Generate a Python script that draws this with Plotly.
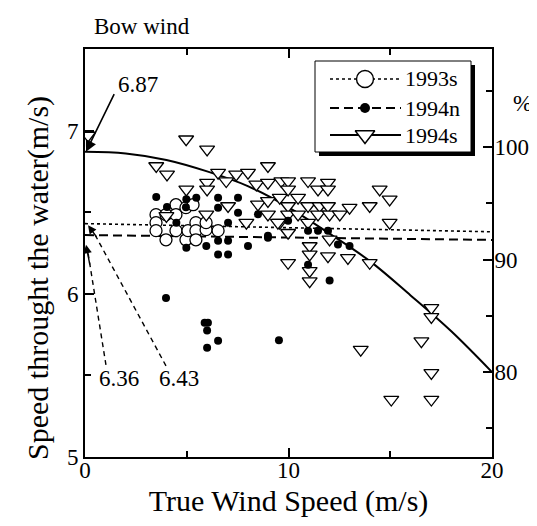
import plotly.graph_objects as go

# ---------------- data ----------------
# 1993s (open circles)
x93s = [3.49, 3.49, 3.49, 3.98, 3.98, 4.47, 4.47, 4.47, 4.96, 4.96, 5.06, 5.31, 5.45, 5.45, 5.45, 5.95, 5.95, 6.54]
y93s = [6.485, 6.436, 6.387, 6.331, 6.485, 6.546, 6.485, 6.387, 6.528, 6.331, 6.387, 6.546, 6.436, 6.387, 6.331, 6.393, 6.436, 6.387]

# 1994n (filled dots)
x94n = [3.50, 4.03, 5.47, 4.98, 6.54, 6.54, 7.52, 7.52, 8.01, 6.54, 7.03, 5.96, 4.98, 4.49, 7.03,
        8.99, 8.50, 4.96, 3.98, 5.88, 6.04, 6.00, 6.54, 6.00, 9.53, 6.54, 7.03, 12.02, 10.96,
        8.99, 9.98, 10.96, 11.45, 11.94, 12.43, 13.00]
y94n = [6.593, 6.532, 6.589, 6.579, 6.589, 6.528, 6.589, 6.497, 6.293, 6.241, 6.241, 6.293, 6.282, 6.436, 6.436,
        6.344, 6.487, 6.530, 5.975, 5.822, 5.822, 5.775, 5.713, 5.669, 5.716, 6.325, 6.325, 6.082, 6.178,
        6.356, 6.448, 6.387, 6.387, 6.387, 6.302, 6.293]

# 1994s (open down-triangles)
x94s = [0.15, 4.97, 6.00, 3.50, 4.03, 6.54, 7.43, 8.01, 8.99, 6.94, 6.00, 6.00, 4.98, 7.03, 5.96, 4.00,
        7.93, 8.42, 8.99, 9.65, 8.50, 8.99, 9.57, 8.99, 9.57, 9.98, 10.96, 11.94, 9.98, 10.47, 11.45,
        11.94, 9.98, 10.96, 11.53, 11.94, 9.98, 10.47, 11.45, 12.02, 12.52, 13.00, 13.99, 14.48, 14.97,
        9.48, 10.96, 9.98, 14.97, 12.02, 12.92, 13.99, 11.04, 11.04, 9.98, 11.94, 11.04, 11.04,
        17.02, 17.02, 16.53, 13.55, 17.02, 15.05, 17.02]
y94s = [6.970, 6.947, 6.885, 6.783, 6.732, 6.742, 6.732, 6.742, 6.783, 6.691, 6.681, 6.640, 6.640, 6.538, 6.487, 6.477,
        6.436, 6.670, 6.681, 6.691, 6.548, 6.569, 6.589, 6.487, 6.436, 6.691, 6.691, 6.681, 6.640, 6.589, 6.640,
        6.640, 6.538, 6.538, 6.538, 6.538, 6.487, 6.487, 6.487, 6.487, 6.487, 6.528, 6.538, 6.640, 6.579,
        6.436, 6.436, 6.374, 6.436, 6.333, 6.220, 6.190, 6.293, 6.241, 6.190, 6.231, 6.140, 6.078,
        5.914, 5.859, 5.710, 5.658, 5.515, 5.352, 5.352]

# fitted lines
fit93s_x = [0, 20]
fit93s_y = [6.43, 6.38]
fit94n_x = [0, 20]
fit94n_y = [6.36, 6.33]
fit94s_x = [0, 2, 4, 6, 8, 10, 12, 14, 16, 18, 20]
fit94s_y = [6.87, 6.86, 6.82, 6.75, 6.66, 6.53, 6.37, 6.20, 5.99, 5.77, 5.52]

series_names = ["1993s", "1994n", "1994s"]
x_ticks = [0, 10, 20]
y_ticks = [5, 6, 7]
pct_ticks = [80, 90, 100]
pct_ref = 6.90          # speed that corresponds to 100 %

FONT = "Liberation Serif"

# plot-area geometry (px) used only for placing decorations
L, R, T, B = 77, 484, 41, 449
W, H = 537, 526

def px2x(px):
    return (px - L) / (R - L)

def py2y(py):
    return (B - py) / (B - T)

fig = go.Figure()

# fit lines
styles = {
    "1993s": dict(color="black", width=1.6, dash="dot"),
    "1994n": dict(color="black", width=2, dash="9px,5px"),
    "1994s": dict(color="black", width=2),
}
fig.add_trace(go.Scatter(x=fit93s_x, y=fit93s_y, mode="lines", showlegend=False, line=styles["1993s"]))
fig.add_trace(go.Scatter(x=fit94n_x, y=fit94n_y, mode="lines", showlegend=False, line=styles["1994n"]))
fig.add_trace(go.Scatter(x=fit94s_x, y=fit94s_y, mode="lines", showlegend=False,
                         line=dict(styles["1994s"], shape="spline")))

# markers
fig.add_trace(go.Scatter(x=x93s, y=y93s, mode="markers", showlegend=False,
                         marker=dict(symbol="circle", size=12, color="white",
                                     line=dict(color="black", width=1.3))))
fig.add_trace(go.Scatter(x=x94s, y=y94s, mode="markers", showlegend=False,
                         marker=dict(symbol="triangle-down", size=13, color="white",
                                     line=dict(color="black", width=1.3))))
fig.add_trace(go.Scatter(x=x94n, y=y94n, mode="markers", showlegend=False,
                         marker=dict(symbol="circle", size=8, color="black",
                                     line=dict(color="black", width=0))))

# dummy on right axis
fig.add_trace(go.Scatter(x=[None], y=[None], yaxis="y2", showlegend=False, hoverinfo="skip"))

# ---------- hand-made legend on an overlay axis in paper units ----------
bx0, bx1, by0, by1 = px2x(307), px2x(463), py2y(144), py2y(53)
sdx, sdy = 4 / (R - L), 4 / (B - T)
fig.add_trace(go.Scatter(x=[bx0 + sdx, bx1 + sdx, bx1 + sdx, bx0 + sdx, bx0 + sdx],
                         y=[by0 - sdy, by0 - sdy, by1 - sdy, by1 - sdy, by0 - sdy],
                         xaxis="x3", yaxis="y3", mode="lines", fill="toself",
                         fillcolor="black", line=dict(color="black", width=0),
                         showlegend=False, hoverinfo="skip"))
fig.add_trace(go.Scatter(x=[bx0, bx1, bx1, bx0, bx0], y=[by0, by0, by1, by1, by0],
                         xaxis="x3", yaxis="y3", mode="lines", fill="toself",
                         fillcolor="white", line=dict(color="black", width=1),
                         showlegend=False, hoverinfo="skip"))
row_py = [71, 100, 127]
leg_markers = [
    dict(symbol="circle", size=17, color="white", line=dict(color="black", width=1.4)),
    dict(symbol="circle", size=10, color="black"),
    dict(symbol="triangle-down", size=17, color="white", line=dict(color="black", width=1.4)),
]
leg_ann = []
for name, rp, mk in zip(series_names, row_py, leg_markers):
    yy = py2y(rp)
    fig.add_trace(go.Scatter(x=[px2x(322), px2x(393)], y=[yy, yy], xaxis="x3", yaxis="y3",
                             mode="lines", line=styles[name], showlegend=False, hoverinfo="skip"))
    fig.add_trace(go.Scatter(x=[px2x(357)], y=[yy], xaxis="x3", yaxis="y3", mode="markers",
                             marker=mk, showlegend=False, hoverinfo="skip"))
    leg_ann.append(dict(text=name, xref="paper", yref="paper", x=px2x(395), y=yy,
                        xanchor="left", yanchor="middle", showarrow=False,
                        font=dict(family=FONT, size=22)))

tickfont = dict(family=FONT, size=23, color="black")

fig.update_layout(
    width=W, height=H,
    margin=dict(l=L, r=W - R, t=T, b=H - B, autoexpand=False),
    paper_bgcolor="white", plot_bgcolor="white",
    font=dict(family=FONT, color="black"),
    showlegend=False,
    xaxis=dict(range=[0, 20], tickvals=x_ticks, ticktext=[str(v) for v in x_ticks],
               ticks="inside", ticklen=9, tickwidth=1.5, tickcolor="black",
               minor=dict(tickvals=[5, 15], ticks="inside", ticklen=6, tickwidth=1.5, tickcolor="black"),
               showline=True, linecolor="black", linewidth=2, mirror="ticks",
               showgrid=False, zeroline=False, tickfont=tickfont, ticklabelstandoff=-9,
               title=dict(text="True Wind Speed (m/s)", font=dict(family=FONT, size=30), standoff=8)),
    yaxis=dict(range=[5, 7.5], tickvals=y_ticks, ticktext=[str(v) for v in y_ticks],
               ticks="inside", ticklen=9, tickwidth=1.5, tickcolor="black",
               minor=dict(tickvals=[5.5, 6.5], ticks="inside", ticklen=6, tickwidth=1.5, tickcolor="black"),
               showline=True, linecolor="black", linewidth=2,
               showgrid=False, zeroline=False, tickfont=tickfont),
    yaxis2=dict(overlaying="y", side="right",
                range=[500 / pct_ref, 750 / pct_ref], tickvals=pct_ticks,
                ticktext=[str(v) for v in pct_ticks],
                ticks="inside", ticklen=9, tickwidth=1.5, tickcolor="black",
                minor=dict(tickvals=[75, 85, 95, 105], ticks="inside", ticklen=6, tickwidth=1.5, tickcolor="black"),
                showline=True, linecolor="black", linewidth=2, ticklabelstandoff=-4,
                showgrid=False, zeroline=False, tickfont=tickfont),
    xaxis3=dict(overlaying="x", range=[0, 1], visible=False, anchor="y3"),
    yaxis3=dict(overlaying="y", range=[0, 1], visible=False, anchor="x3"),
)

ann = list(leg_ann)
# titles
ann.append(dict(text="Bow wind", xref="paper", yref="paper", x=px2x(84), y=py2y(19),
                xanchor="left", yanchor="middle", showarrow=False,
                font=dict(family=FONT, size=23)))
ann.append(dict(text="Speed throught the water(m/s)", xref="paper", yref="paper",
                x=px2x(30), y=py2y(270), xanchor="center", yanchor="middle", textangle=-90,
                showarrow=False, font=dict(family=FONT, size=30)))
ann.append(dict(text="%", xref="paper", yref="paper", x=px2x(514), y=py2y(96),
                xanchor="center", yanchor="middle", showarrow=False,
                font=dict(family=FONT, size=23)))
# 6.87 annotation
ann.append(dict(text="6.87", x=2.60, y=7.282, xref="x", yref="y", showarrow=False,
                font=dict(family=FONT, size=23)))
ann.append(dict(text="", x=0.05, y=6.87, xref="x", yref="y", ax=1.47, ay=7.233,
                axref="x", ayref="y", showarrow=True, arrowhead=2, arrowsize=1.4,
                arrowwidth=1.6, arrowcolor="black"))
# 6.36 / 6.43 annotations
ann.append(dict(text="6.36", x=1.68, y=5.48, xref="x", yref="y", showarrow=False,
                font=dict(family=FONT, size=23)))
ann.append(dict(text="6.43", x=4.62, y=5.48, xref="x", yref="y", showarrow=False,
                font=dict(family=FONT, size=23)))
ann.append(dict(text="", x=0.05, y=6.30, xref="x", yref="y", ax=0.25, ay=6.17,
                axref="x", ayref="y", showarrow=True, arrowhead=2, arrowsize=1.2,
                arrowwidth=1.4, arrowcolor="black"))
ann.append(dict(text="", x=0.15, y=6.42, xref="x", yref="y", ax=0.62, ay=6.34,
                axref="x", ayref="y", showarrow=True, arrowhead=2, arrowsize=1.2,
                arrowwidth=1.4, arrowcolor="black"))
fig.update_layout(annotations=ann)

fig.add_shape(type="line", xref="x", yref="y", x0=1.03, y0=5.564, x1=0.15, y1=6.25,
              line=dict(color="black", width=1.4, dash="5px,4px"))
fig.add_shape(type="line", xref="x", yref="y", x0=3.98, y0=5.558, x1=0.5, y1=6.36,
              line=dict(color="black", width=1.4, dash="5px,4px"))

fig.write_html("out.html")
